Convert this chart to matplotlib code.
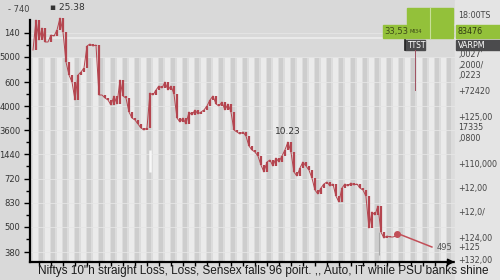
import numpy as np
import matplotlib
matplotlib.use("Agg")
import matplotlib.pyplot as plt
from matplotlib.patches import Rectangle

# index level per session (arbitrary chart units)
levels = [212, 242, 222, 234, 220, 220, 227, 226, 232, 244, 230, 200, 187, 180, 162,
          187, 190, 194, 216, 218, 216, 217, 167, 167, 164, 162, 157, 166, 158, 182,
          166, 164, 150, 144, 142, 138, 134, 132, 134, 169, 167, 172, 176, 174, 180,
          172, 176, 168, 144, 140, 144, 138, 150, 147, 152, 148, 150, 152, 156, 162,
          166, 158, 156, 160, 152, 158, 150, 132, 130, 128, 130, 126, 116, 112, 110,
          106, 97, 90, 100, 102, 96, 104, 100, 106, 112, 120, 110, 90, 86, 94,
          100, 96, 92, 84, 72, 68, 74, 78, 80, 76, 78, 66, 60, 74, 78,
          76, 79, 77, 78, 74, 72, 66, 34, 50, 47, 56, 30, 24, 26, 25,
          25, 26, 28]
tail_days = [122, 133]
tail_levels = [28, 15]

left_ticks = [229, 205, 180, 156, 132, 108, 83, 59, 35, 10]
left_labels = ["140", "5000", "600", "4000", "3600", "1440", "720", "830", "500", "380"]

right_labels = ["18:00TS", "83476", "VARPM", ",0027'", ",2000/", ",0223", "+72420",
                "+125,00", "17335", ",0800", "+110,000", "+12,00", "+12,0/",
                "+124,00", "+125", "+132,00"]
right_label_px = [15, 31, 45, 55, 65, 76, 91, 117, 128, 139, 165, 189, 213, 238, 248, 260]

title = "Niftys 10\"h straight Loss, Loss, Sensex falls 96 poirt. ,, Auto, IT while PSU banks shine"

RED = "#b4454f"
GREEN = "#93c13a"
DARK = "#4b4b4d"

W, H = 500, 280
fig = plt.figure(figsize=(5, 2.8), dpi=100, facecolor="#d9d9d9")


def px(x, y):
    return x / W, 1 - y / H


# lighter panel behind the right-hand labels
fig.patches.append(Rectangle(px(455, 280), 45 / W, 1, transform=fig.transFigure,
                             color="#e4e4e4", zorder=0))

ax = fig.add_axes([30 / W, 18 / H, 425 / W, 255 / H])
ax.set_xlim(-1, 140.7)
ax.set_ylim(0, 255)
ax.set_facecolor("none")

# vertical stripes
stripe_x = np.arange(0, 140, 4)
ax.axhspan(0, 204, color="#dcdcdc", zorder=-1)
ax.bar(stripe_x + 0.9, 204, width=1.8, color="#ebebeb", zorder=0)
ax.bar(stripe_x + 2.8, 204, width=1.3, color="#cdcdcd", zorder=0)
ax.axhline(224, color="#e9e9e9", lw=1.5, zorder=0)
for t in left_ticks:
    ax.axhline(t, color="#e6e6e6", lw=0.6, zorder=0.5)

# price path with candle-like bodies
days = np.arange(len(levels))
prev = [levels[0]] + levels[:-1]
ax.plot(days, levels, color=RED, lw=0.7, zorder=3, clip_on=False)
ax.vlines(days, prev, levels, color=RED, lw=1.6, zorder=3, clip_on=False)
ax.plot(tail_days, tail_levels, color="#c24f58", lw=1.1, zorder=3)
ax.plot(tail_days[0] - 0.7, tail_levels[0], "o", ms=4, color="#c24f58", zorder=4)
ax.text(tail_days[1] + 1.5, tail_levels[1], "495", fontsize=6, color="#555555",
        va="center")
ax.text(85, 128, "10.23", fontsize=6.5, color="#333333", ha="center")
ax.vlines(115.5, 7, 30, color="#a9a9a9", lw=0.8, zorder=2)
ax.vlines(39, 90, 112, color="#f7f7f7", lw=1.8, zorder=2)

# axes
for s in ["top", "right"]:
    ax.spines[s].set_visible(False)
ax.spines["left"].set_bounds(0, 242)
ax.spines["left"].set_linewidth(1.6)
ax.spines["bottom"].set_linewidth(1.6)
ax.set_yticks(left_ticks)
ax.set_yticklabels(left_labels, fontsize=6, color="#333333")
ax.set_yticks(np.array(left_ticks[:-1]) - 12.2, minor=True)
ax.tick_params(axis="y", which="major", length=4, width=1, pad=3)
ax.tick_params(axis="y", which="minor", length=3, width=1)
ax.set_xticks(np.arange(2, 140, 4))
ax.set_xticklabels([])
ax.tick_params(axis="x", length=3, width=1)
ax.annotate("", xy=(141.5, 0), xytext=(138, 0),
            arrowprops=dict(arrowstyle="-|>", color="black", lw=1), annotation_clip=False)

# header texts
fig.text(*px(8, 9), "- 740", fontsize=6, color="#444444", va="center")
fig.text(*px(50, 8), "\u25aa 25.38", fontsize=6.5, color="#333333", va="center")

# green / dark info boxes on the right
boxes = [(407, 8, 46, 16, GREEN), (383, 25, 70, 13, GREEN), (456, 25, 44, 13, GREEN),
         (405, 40, 20, 10, DARK), (456, 40, 44, 10, DARK)]
for x, y, w, h, c in boxes:
    fig.patches.append(Rectangle(px(x, y + h), w / W, h / H, transform=fig.transFigure,
                                 color=c, zorder=1))
fig.add_artist(plt.Line2D([430 / W, 430 / W], [1 - 8 / H, 1 - 38 / H],
                          transform=fig.transFigure, color="#c8df98", lw=0.8))
fig.add_artist(plt.Line2D([405 / W, 405 / W], [1 - 40 / H, 1 - 50 / H],
                          transform=fig.transFigure, color="#222222", lw=1.2))
fig.add_artist(plt.Line2D([415 / W, 415 / W], [1 - 50 / H, 1 - 90 / H],
                          transform=fig.transFigure, color="#a05060", lw=0.7))
fig.text(*px(384, 31.5), "33,53", fontsize=6, color="#3d4a18", va="center")
fig.text(*px(410, 31.5), "MI34", fontsize=3.8, color="#3d4a18", va="center")
fig.text(*px(408, 45), "TTST", fontsize=5.5, color="white", va="center")

for lab, y in zip(right_labels, right_label_px):
    if lab == "VARPM":
        col = "white"
    elif lab == "83476":
        col = "#2f3a12"
    else:
        col = "#444444"
    fig.text(*px(458, y), lab, fontsize=5.8, color=col, va="center")

# bottom headline, sized to span the same width as in the reference
head = fig.text(*px(38, 271), title, fontsize=10, family="Liberation Sans",
                color="#1a1a1a", va="center")
fig.canvas.draw()
head.set_fontsize(10 * 452 / head.get_window_extent().width)

fig.savefig("out.png", dpi=100, facecolor=fig.get_facecolor())
